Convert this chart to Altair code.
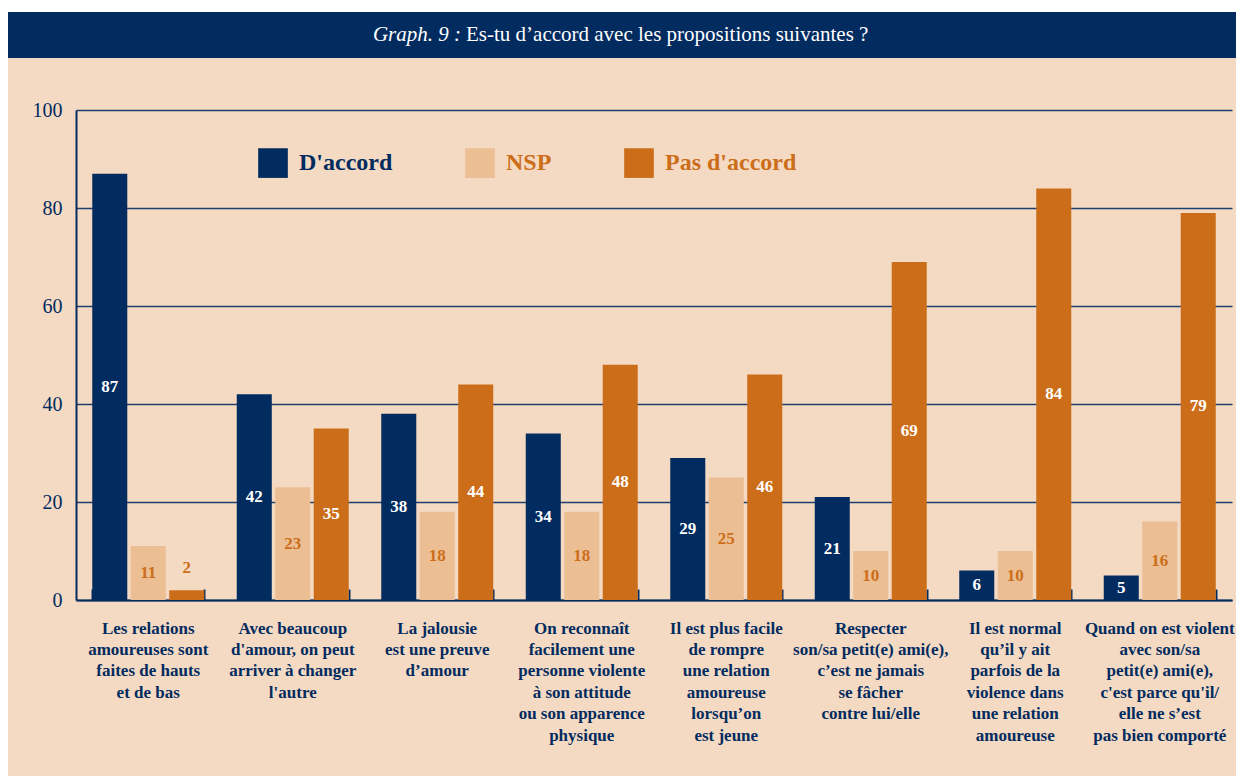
import altair as alt
import pandas as pd

# ---------------- data ----------------
categories = [
    "Les relations|amoureuses sont|faites de hauts|et de bas",
    "Avec beaucoup|d'amour, on peut|arriver à changer|l'autre",
    "La jalousie|est une preuve|d’amour",
    "On reconnaît|facilement une|personne violente|à son attitude|ou son apparence|physique",
    "Il est plus facile|de rompre|une relation|amoureuse|lorsqu’on|est jeune",
    "Respecter|son/sa petit(e) ami(e),|c’est ne jamais|se fâcher|contre lui/elle",
    "Il est normal|qu’il y ait|parfois de la|violence dans|une relation|amoureuse",
    "Quand on est violent|avec son/sa|petit(e) ami(e),|c'est parce qu'il/|elle ne s’est|pas bien comporté",
]
series = ["D'accord", "NSP", "Pas d'accord"]
daccord = [87, 42, 38, 34, 29, 21, 6, 5]
nsp = [11, 23, 18, 18, 25, 10, 10, 16]
pas_daccord = [2, 35, 44, 48, 46, 69, 84, 79]
y_ticks = [0, 20, 40, 60, 80, 100]
title_italic = "Graph. 9 :"
title_text = "Es-tu d’accord avec les propositions suivantes ?"

# ---------------- styling ----------------
NAVY = "#022b5f"
LIGHT = "#ebbe94"
ORANGE = "#cc6e19"
BG = "#f4dac3"
FONT = "Liberation Serif"

W, H = 1156, 490
PAD = {"left": 68, "top": 102, "right": 4, "bottom": 176}

rows = []
for i, c in enumerate(categories):
    for s, vals in zip(series, [daccord, nsp, pas_daccord]):
        rows.append({"cat": c, "serie": s, "value": vals[i]})
df = pd.DataFrame(rows)

x_scale = alt.Scale(domain=categories, paddingInner=0.225, paddingOuter=0.1125)
xo_scale = alt.Scale(domain=series, paddingInner=0.09, paddingOuter=0)
y_scale = alt.Scale(domain=[0, 100])
color_scale = alt.Scale(domain=series, range=[NAVY, LIGHT, ORANGE])

base = alt.Chart(df)

bars = base.mark_bar().encode(
    x=alt.X("cat:N", scale=x_scale, sort=None, title=None,
            axis=alt.Axis(labelExpr="split(datum.label, '|')", labelAngle=0,
                          labelFont=FONT, labelFontSize=17, labelFontWeight="bold",
                          labelColor=NAVY, labelLineHeight=21.4, labelBaseline="top",
                          labelPadding=20, labelLimit=0, labelOverlap=False,
                          labelBound=False, ticks=False, domainColor=NAVY,
                          domainWidth=2, grid=False)),
    xOffset=alt.XOffset("serie:N", scale=xo_scale, sort=series),
    y=alt.Y("value:Q", scale=y_scale, title=None,
            axis=alt.Axis(values=y_ticks, labelFont=FONT, labelFontSize=20,
                          labelColor=NAVY, labelPadding=14, ticks=False,
                          domainColor=NAVY, domainWidth=2, gridColor="#1f3f6e",
                          gridWidth=1.5, gridOpacity=1)),
    color=alt.Color("serie:N", scale=color_scale, sort=series,
                    legend=alt.Legend(orient="none", legendX=182, legendY=38,
                                      direction="horizontal", title=None,
                                      symbolType="square", symbolSize=880,
                                      symbolStrokeWidth=0, symbolOpacity=1,
                                      labelFont=FONT, labelFontSize=24,
                                      labelFontWeight="bold", labelOffset=11,
                                      labelColor=alt.ExprRef(expr="datum.label == \"D'accord\" ? '" + NAVY + "' : '" + ORANGE + "'"),
                                      columnPadding=72)),
)

labels = base.transform_calculate(
    ly="datum.value < 4 ? datum.value + 4.5 : datum.value / 2"
).mark_text(font=FONT, fontSize=17, fontWeight="bold", baseline="middle").encode(
    x=alt.X("cat:N", scale=x_scale, sort=None, axis=None),
    xOffset=alt.XOffset("serie:N", scale=xo_scale, sort=series),
    y=alt.Y("ly:Q", scale=y_scale),
    text="value:Q",
    color=alt.condition("datum.serie == 'NSP' || datum.value < 4",
                        alt.value(ORANGE), alt.value("white")),
)

tick_layer = base.mark_rule(opacity=0).encode(
    x=alt.X("cat:N", scale=x_scale, sort=None, title=None,
            axis=alt.Axis(orient="bottom", offset=-11, tickBand="extent",
                          tickSize=11, tickWidth=2, tickColor=NAVY,
                          labels=False, domain=False, grid=False)),
)

one = pd.DataFrame({"k": [0]})
white_strip = alt.Chart(one).mark_rect(color="white").encode(
    x=alt.value(-PAD["left"]), x2=alt.value(W + PAD["right"]),
    y=alt.value(-PAD["top"]), y2=alt.value(-PAD["top"] + 4))
banner = alt.Chart(one).mark_rect(color=NAVY).encode(
    x=alt.value(-PAD["left"]), x2=alt.value(W + PAD["right"]),
    y=alt.value(-PAD["top"] + 4), y2=alt.value(-PAD["top"] + 50))
t1 = alt.Chart(one).mark_text(text=title_italic, font=FONT, fontSize=21,
                               fontStyle="italic", color="white", align="right",
                               baseline="middle").encode(
    x=alt.value(385), y=alt.value(-75))
t2 = alt.Chart(one).mark_text(text=title_text, font=FONT, fontSize=21,
                               color="white", align="left",
                               baseline="middle").encode(
    x=alt.value(390), y=alt.value(-75))

chart = alt.layer(white_strip, banner, t1, t2, bars, labels, tick_layer).resolve_axis(
    x="independent"
).properties(
    width=W, height=H, padding=PAD,
    autosize=alt.AutoSizeParams(type="none"),
).configure(background=BG).configure_view(stroke=None)

chart.save("out.html", embed_options={"renderer": "svg", "actions": False})
